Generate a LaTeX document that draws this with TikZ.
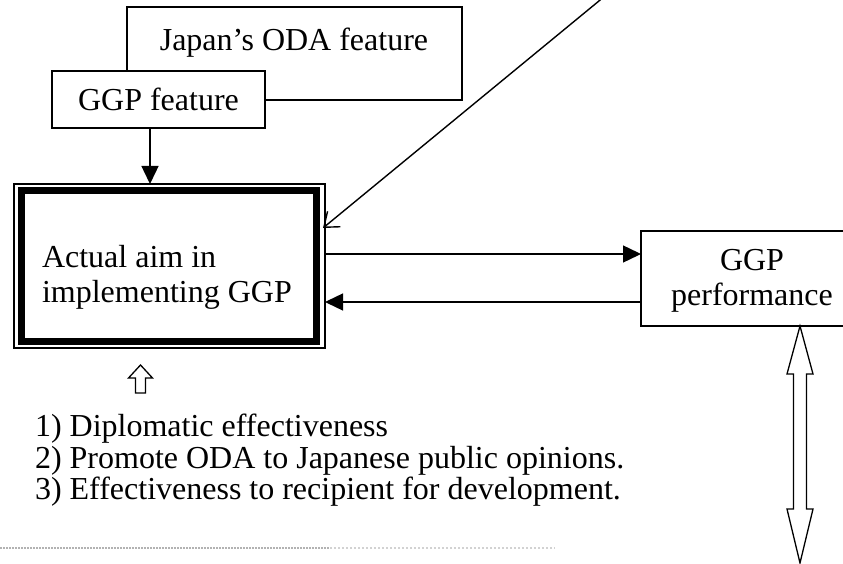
\documentclass[tikz,border=0pt]{standalone}
\usepackage{fontspec}
\setmainfont{Liberation Serif}
\usetikzlibrary{arrows.meta}
\begin{document}
\begin{tikzpicture}[x=1pt,y=-1pt,
  line width=1.4pt,
  box/.style={draw, fill=white, rectangle, inner sep=0pt, outer sep=0pt, anchor=north west},
  txt/.style={inner sep=0pt, outer sep=0pt, font=\fontsize{32}{35}\selectfont},
  fillarrow/.style={-{Triangle[length=18pt,width=17pt]}},
  barb/.style={-{Straight Barb[length=13pt,width=20pt]}},
  hollow/.style={draw, line width=1.3pt, fill=white}
]
\useasboundingbox (0,0) rectangle (843,564);
% boxes
\node[box, minimum width=335pt, minimum height=93pt] (oda) at (127,7) {};
\node[txt, anchor=base] (odat) at (294,51) {Japan’s ODA feature};
\node[box, txt, minimum width=213pt, minimum height=57pt, anchor=north west] (gf) at (52,71) {GGP feature};
\node[box, minimum width=311pt, minimum height=164pt, line width=1.2pt] (aim) at (14,184) {};
\draw[line width=7pt] ([shift={(7,7)}]aim.north west) rectangle ([shift={(-9,-7)}]aim.south east);
\node[txt, anchor=west, align=left] (aimt) at (42,277) {Actual aim in\\implementing GGP};
\node[box, minimum width=230pt, minimum height=95pt] (perf) at (641,231) {};
\node[txt, align=center] (perft) at (752,281) {GGP\\performance};
% connectors
\draw[fillarrow] ([xshift=-8.5pt]gf.south) -- ([xshift=-8.5pt]gf.south |- aim.north);
\coordinate (r1) at ([yshift=12pt]aim.east);
\coordinate (r2) at ([yshift=-36pt]aim.east);
\draw[fillarrow] (r1) -- (r1 -| perf.west);
\draw[fillarrow] (r2 -| perf.west) -- (r2);
\coordinate (dtop) at (605,-4);
\draw[barb] (dtop) -- ([shift={(-2,44)}]aim.north east);
% double hollow arrow
\coordinate (dbot) at (800,563);
\coordinate (dtopa) at (dbot |- perf.south);
\draw[hollow] (dtopa) -- ++(13,48) -- ++(-6.5,0) -- ++(0,135) -- ++(6.5,0) -- (dbot)
  -- ++(-13,-54) -- ++(6.5,0) -- ++(0,-135) -- ++(-6.5,0) -- cycle;
% small up arrow
\coordinate (up) at (140.5,365);
\draw[hollow] (up) -- ++(12,13) -- ++(-7,0) -- ++(0,15) -- ++(-10,0) -- ++(0,-15) -- ++(-7,0) -- cycle;
% list
\node[txt, anchor=base west] (l1) at (35,436) {1) Diplomatic effectiveness};
\node[txt, anchor=base west] (l2) at (35,468) {2) Promote ODA to Japanese public opinions.};
\node[txt, anchor=base west] (l3) at (35,499) {3) Effectiveness to recipient for development.};
% dotted rule
\coordinate (dl) at (0,548);
\coordinate (dm) at (330,548);
\coordinate (dr) at (555,548);
\draw[gray!60, line width=2pt, densely dotted] (dl) -- (dm);
\draw[gray!35, line width=2pt, dotted] (dm) -- (dr);
\end{tikzpicture}
\end{document}
